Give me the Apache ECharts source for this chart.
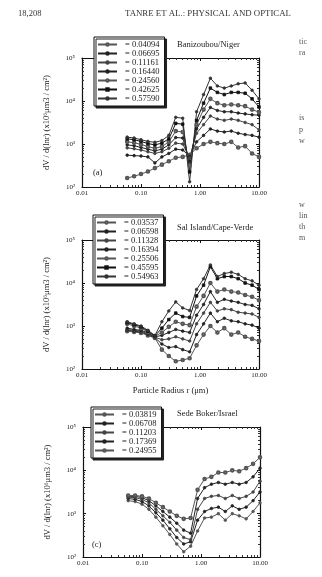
<!DOCTYPE html>
<html><head><meta charset="utf-8">
<script src="https://cdn.jsdelivr.net/npm/echarts@6/dist/echarts.min.js"></script>
<style>html,body{margin:0;padding:0;background:#fff}#c{width:322px;height:577px}</style>
</head><body><div id="c"></div>
<script>
// Particle radius grid (um)
const radius = [0.0583,0.0764,0.100,0.131,0.172,0.226,0.296,0.388,0.509,0.667,0.875,1.15,1.50,1.97,2.58,3.39,4.44,5.82,7.63,10.0];
const xTickLabels = ['0.01','0.10','1.00','10.00'];
const yTickLabels = ['10\u00b2','10\u00b3','10\u2074','10\u2075'];

// (a) Banizoubou/Niger
const tauNiger = ['0.04094','0.06695','0.11161','0.16440','0.24560','0.42625','0.57590'];
const niger_04094 = [162,178,200,229,275,331,398,479,501,562,794,1000,1122,1047,1000,1122,832,891,603,501];
const niger_06695 = [550,537,525,501,363,501,603,759,724,525,1122,1585,2239,1995,1905,1995,1778,1660,1585,1445];
const niger_11161 = [813,776,724,661,603,661,794,1047,1000,479,1778,2818,4467,3802,3548,3802,3548,3162,2818,2138];
const niger_16440 = [955,912,832,759,692,759,955,1413,1380,398,2239,4169,7079,6026,5623,5623,5248,5012,4786,4677];
const niger_24560 = [1122,1072,977,871,794,871,1122,1995,1905,316,2818,6310,11220,8913,7943,8318,7943,7586,6310,5495];
const niger_42625 = [1318,1259,1148,1023,955,1047,1318,3020,2884,224,3548,8913,19950,15850,14130,15850,15850,15140,11220,7244];
const niger_57590 = [1445,1380,1259,1148,1096,1202,1585,4169,3981,132,5623,14130,33880,22390,19950,22390,25120,26300,17780,11220];

// (b) Sal Island/Cape-Verde
const tauSal = ['0.03537','0.06598','0.11328','0.16394','0.25506','0.45595','0.54963'];
const sal_03537 = [759,724,692,603,525,282,200,151,162,178,355,631,1000,708,891,631,708,562,501,447];
const sal_06598 = [794,759,724,631,537,380,316,331,282,251,631,1122,1995,1259,1514,1318,1259,1122,1047,891];
const sal_11328 = [832,794,759,661,550,479,501,562,501,447,1122,1995,3548,2239,2512,2399,2089,1995,1905,1585];
const sal_16394 = [891,832,794,692,562,603,708,832,759,708,1778,3162,6310,3548,4169,3802,3548,3162,3020,2512];
const sal_25506 = [1122,1000,891,724,575,708,955,1259,1122,1047,2818,5012,10000,6310,7079,6310,6026,5248,4786,3981];
const sal_45595 = [1202,1072,955,759,589,891,1413,1995,1660,1585,5012,8913,23990,12590,14130,14130,12590,10000,8913,7079];
const sal_54963 = [1259,1122,1000,794,603,1259,2239,3631,2630,2291,7079,12590,26300,14130,16600,17780,15850,12590,11220,8913];

// (c) Sede Boker/Israel
const tauSede = ['0.03819','0.06708','0.11203','0.17369','0.24955'];
const sede_03819 = [1995,1905,1660,1259,832,525,331,200,132,178,398,794,832,1000,708,1000,891,759,1122,1778];
const sede_06708 = [2239,2138,1905,1514,1047,708,447,282,200,224,708,1122,1318,1413,1122,1514,1259,1413,1995,3162];
const sede_11203 = [2399,2344,2138,1778,1259,891,631,417,282,251,1259,2239,2512,2630,2239,2630,2239,2512,3162,5623];
const sede_17369 = [2512,2512,2344,1995,1514,1122,832,603,417,355,2239,3981,4786,5248,4786,5248,4786,5248,7079,11220];
const sede_24955 = [2630,2630,2512,2239,1778,1413,1122,891,759,794,3548,6310,7079,8913,8913,10000,9550,11220,14130,19950];

const stations = ['Banizoubou/Niger','Sal Island/Cape-Verde','Sede Boker/Israel'];
const yName = 'dV / d(lnr) (x10\u2076\u03bcm3 / cm\u00b2)';
const xName = 'Particle Radius r (\u03bcm)';

const FONT = '"Liberation Serif", "DejaVu Serif", serif';
const INK = '#222';

const panels = [
  {taus: tauNiger, data: [niger_04094,niger_06695,niger_11161,niger_16440,niger_24560,niger_42625,niger_57590]},
  {taus: tauSal, data: [sal_03537,sal_06598,sal_11328,sal_16394,sal_25506,sal_45595,sal_54963]},
  {taus: tauSede, data: [sede_03819,sede_06708,sede_11203,sede_17369,sede_24955]}
];

const grids = [
  {left: 82, top: 58, width: 177, height: 129},
  {left: 82, top: 240, width: 177, height: 129},
  {left: 83, top: 427, width: 177, height: 130}
];
const legendPos = [
  {left: 94, top: 37}, {left: 93, top: 215}, {left: 91, top: 407}
];
const titlePos = [
  {left: 177, top: 40}, {left: 177, top: 223}, {left: 177, top: 409}
];

const symbolsA = ['emptyCircle','circle','circle','circle','emptyCircle','rect','circle'];
const symbolsC = ['circle','circle','circle','circle','emptyCircle'];
const colorsA = ['#555','#222','#444','#222','#555','#111','#333'];

const xAxis = [], yAxis = [], series = [], legend = [], title = [];
grids.forEach((g, gi) => {
  const axLine = {show: true, onZero: false, lineStyle: {color: '#111', width: 1.2}};
  const common = {type: 'log', logBase: 10, gridIndex: gi, splitLine: {show: false}, axisLine: axLine};
  xAxis.push(Object.assign({}, common, {
    position: 'bottom', min: 0.01, max: 10,
    axisTick: {inside: true, length: 3, lineStyle: {color: '#111'}},
    minorTick: {show: true, splitNumber: 9, length: 2, lineStyle: {color: '#333'}},
    axisLabel: {fontFamily: FONT, fontSize: 7, color: INK, margin: 3,
      formatter: v => xTickLabels[Math.round(Math.log10(v)) + 2]},
    name: gi === 1 ? xName : '', nameLocation: 'middle', nameGap: 17,
    nameTextStyle: {fontFamily: FONT, fontSize: 8.5, color: INK}
  }));
  xAxis.push(Object.assign({}, common, {
    position: 'top', min: 0.01, max: 10,
    axisTick: {inside: true, length: 3, lineStyle: {color: '#111'}},
    minorTick: {show: true, splitNumber: 9, length: 2, lineStyle: {color: '#333'}},
    axisLabel: {show: false}
  }));
  yAxis.push(Object.assign({}, common, {
    position: 'left', min: 100, max: 100000,
    axisTick: {inside: true, length: 3, lineStyle: {color: '#111'}},
    minorTick: {show: true, splitNumber: 9, length: 2, lineStyle: {color: '#333'}},
    axisLabel: {fontFamily: FONT, fontSize: 7, color: INK, margin: 7,
      formatter: v => yTickLabels[Math.round(Math.log10(v)) - 2]},
    name: yName, nameLocation: 'middle', nameGap: 31, nameRotate: 90,
    nameTextStyle: {fontFamily: FONT, fontSize: 8.5, color: INK}
  }));
  yAxis.push(Object.assign({}, common, {
    position: 'right', min: 100, max: 100000,
    axisTick: {inside: true, length: 3, lineStyle: {color: '#111'}},
    minorTick: {show: true, splitNumber: 9, length: 2, lineStyle: {color: '#333'}},
    axisLabel: {show: false}
  }));

  const p = panels[gi];
  const names = [];
  p.taus.forEach((t, si) => {
    const nm = '= ' + t;
    names.push(nm);
    const sym = gi === 2 ? symbolsC[si] : symbolsA[si];
    const col = colorsA[si % colorsA.length];
    series.push({
      type: 'line', name: nm, xAxisIndex: gi * 2, yAxisIndex: gi * 2,
      data: radius.map((r, k) => [r, p.data[si][k]]),
      symbol: sym, symbolSize: 2.6, showSymbol: true,
      lineStyle: {color: col, width: 1},
      itemStyle: {color: col, borderColor: col, borderWidth: 0.8},
      animation: false, z: 3
    });
  });
  legend.push({
    data: names, orient: 'vertical', left: legendPos[gi].left, top: legendPos[gi].top,
    itemWidth: 19, itemHeight: 3, itemGap: 0,
    padding: [3, 5, 3, 3],
    backgroundColor: '#fff', borderColor: '#111', borderWidth: 1,
    shadowColor: '#222', shadowBlur: 0, shadowOffsetX: 2, shadowOffsetY: 2,
    textStyle: {fontFamily: FONT, fontSize: 8.5, color: INK, lineHeight: 9, padding: [0, 0, 0, 3]},
    selectedMode: false, z: 10
  });
  title.push({
    text: stations[gi], left: titlePos[gi].left, top: titlePos[gi].top, padding: 0,
    textStyle: {fontFamily: FONT, fontSize: 8.5, fontWeight: 'normal', color: INK}
  });
});

title.push({text: '(a)', left: 93, top: 168, padding: 0,
  textStyle: {fontFamily: FONT, fontSize: 8.5, fontWeight: 'normal', color: INK}});
title.push({text: '(c)', left: 92, top: 540, padding: 0,
  textStyle: {fontFamily: FONT, fontSize: 8.5, fontWeight: 'normal', color: INK}});
title.push({text: '18,208', left: 18, top: 9, padding: 0,
  textStyle: {fontFamily: FONT, fontSize: 8.5, fontWeight: 'normal', color: '#333'}});
title.push({text: 'TANRE ET AL.: PHYSICAL AND OPTICAL', left: 125, top: 9, padding: 0,
  textStyle: {fontFamily: FONT, fontSize: 8.8, fontWeight: 'normal', color: '#333'}});

const sideWords = [['tic', 38], ['ra', 49], ['is', 114], ['p', 126], ['w', 137], ['w', 201], ['lin', 212], ['th', 223], ['m', 234]];
const graphic = sideWords.map(w => ({
  type: 'text', left: 299, top: w[1],
  style: {text: w[0], fontFamily: FONT, fontSize: 8, fill: '#555'}
}));

const chart = echarts.init(document.getElementById('c'), null, {renderer: 'canvas'});
chart.setOption({
  backgroundColor: '#fff', animation: false,
  grid: grids, xAxis, yAxis, series, legend, title, graphic
});
</script></body></html>
